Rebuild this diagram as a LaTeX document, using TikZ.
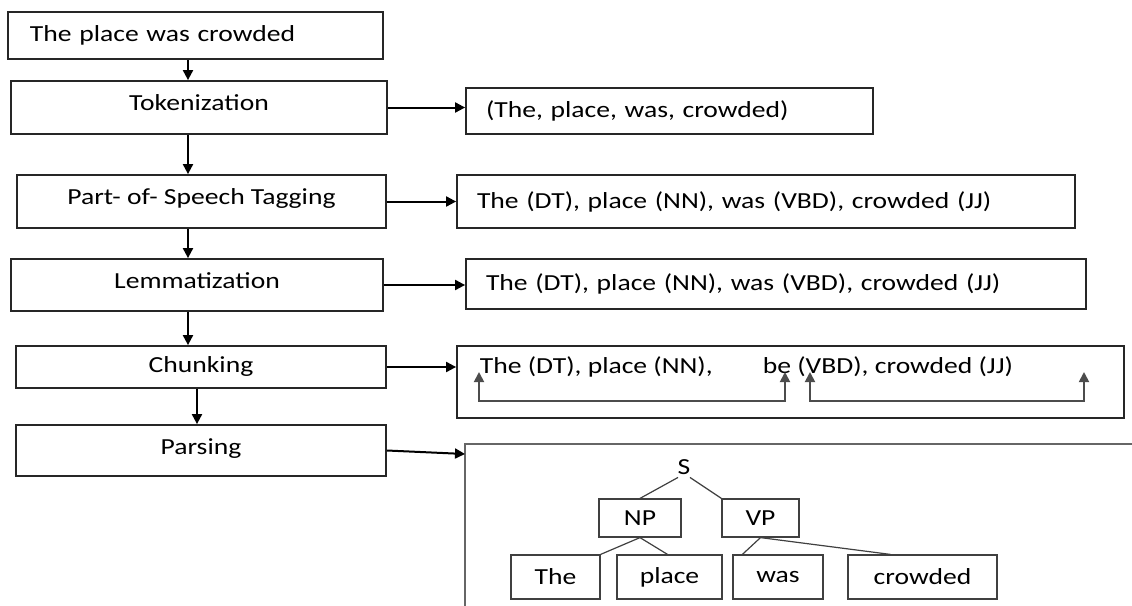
\documentclass[tikz,border=0pt]{standalone}
\usepackage{fontspec}
\setmainfont{Carlito}[FakeStretch=1.2]
\usetikzlibrary{arrows.meta}

\begin{document}
\begin{tikzpicture}[x=0.5pt,y=-0.5pt,line width=0.9pt,
            font=\fontsize{11.5}{14}\selectfont,
            stage/.style = {draw=black!85,
                minimum width=185pt,
                minimum height=26.5pt,
                text depth=4pt,
                inner sep=0pt},
            result/.style = {draw=black!85,
                inner xsep=10pt,
                inner ysep=0pt,
                align=left},
            phrase/.style = {draw=black!75, line width=0.6pt,
                minimum height=19pt, inner sep=0pt},
            leaf/.style = {draw=black!75, line width=0.6pt,
                minimum height=22pt, inner sep=0pt},
            arr/.style = {line width=1pt, -{Triangle[length=5pt,width=5pt]}},
            dbl/.style = {black!70,
                {Triangle[length=5pt,width=5pt]}-{Triangle[length=5pt,width=5pt]}},
            branch/.style = {black!75, line width=0.6pt}]

        \useasboundingbox (0,0) rectangle (1132,606);

        % Input sentence
        \node[stage, minimum width=187.5pt, minimum height=23.5pt, text depth=2pt,
            inner xsep=11pt, text width=165.5pt, align=left] (in) at (195.5,35.5) {The place was crowded};

        % Stages
        \node[stage, minimum width=188pt, text depth=5pt] (tok) at (199,107.5) {Tokenization};
        \node[stage, minimum width=184.5pt, text depth=5pt] (pos) at (201.5,201.5) {Part- of- Speech Tagging};
        \node[stage, minimum width=186pt, minimum height=26pt] (lem) at (197,285) {Lemmatization};
        \node[stage, minimum height=21pt, text depth=2.5pt] (chk) at (201,367) {Chunking};
        \node[stage, minimum height=25.5pt] (prs) at (201,450.5) {Parsing};

        % Stage arrows
        \coordinate (axis) at (188,0);
        \draw[arr] (in.south -| axis) -- (tok.north -| axis);
        \draw[arr] (tok.south -| axis) -- (pos.north -| axis);
        \draw[arr] (pos.south -| axis) -- (lem.north -| axis);
        \draw[arr] (lem.south -| axis) -- (chk.north -| axis);
        \draw[arr] ([xshift=-2pt]chk.south) -- ([xshift=-2pt]prs.north);

        % Results
        \node[result, text width=183.5pt, minimum height=23pt] (tokout) at (669.5,111) {(The, place, was, crowded)};
        \node[result, text width=289pt, minimum height=26.5pt] (posout) at (766,201.5) {The (DT), place (NN), was (VBD), crowded (JJ)};
        \node[result, text width=290pt, minimum height=25pt] (lemout) at (776,284) {The (DT), place (NN), was (VBD), crowded (JJ)};
        \node[draw=black!85, minimum width=333.5pt, minimum height=36pt, inner sep=0pt] (chkout) at (790.5,382) {};
        \node[anchor=west, inner sep=0pt] (chkA) at (479,367) {The (DT), place (NN),};
        \node[anchor=west, inner sep=0pt] (chkB) at (762,367) {be (VBD), crowded (JJ)};

        % Chunk links
        \coordinate (b1) at (479,372);
        \coordinate (b2) at (785,372);
        \coordinate (b3) at (810,372);
        \coordinate (b4) at (1084,372);
        \draw[dbl] (b1) -- ++(0,29) -| (b2);
        \draw[dbl] (b3) -- ++(0,29) -| (b4);

        % Result arrows
        \draw[arr] (tok.east) -- (tok.east -| tokout.west);
        \draw[arr] (pos.east) -- (pos.east -| posout.west);
        \draw[arr] (lem.east) -- (lem.east -| lemout.west);
        \draw[arr] (chk.east) -- (chk.east -| chkout.west);

        % Parse tree frame
        \coordinate (prsin) at (465,454);
        \draw[black!60] (1132,444) -- (465,444) -- (465,606);
        \draw[arr] (prs.east) -- (prsin);

        % Parse tree
        \node[inner sep=1pt] (S) at (684,467) {S};
        \node[phrase, minimum width=41pt] (NP) at (640,518) {NP};
        \node[phrase, minimum width=38.5pt] (VP) at (760.5,518) {VP};
        \node[leaf, minimum width=44.5pt] (the) at (555.5,577) {The};
        \node[leaf, minimum width=52.5pt] (place) at (669.5,577) {place};
        \node[leaf, minimum width=45pt] (was) at (778,577) {was};
        \node[leaf, minimum width=74.5pt] (crowded) at (922.5,577) {crowded};

        \draw[branch] ([xshift=-3pt]S.south) -- (NP.north);
        \draw[branch] ([xshift=3pt]S.south) -- (VP.north west);
        \draw[branch] (NP.south) -- (the.north east);
        \draw[branch] (NP.south) -- ([xshift=-1pt]place.north);
        \draw[branch] (VP.south) -- ([xshift=5pt]was.north west);
        \draw[branch] (VP.south) -- ([xshift=-16pt]crowded.north);

        \end{tikzpicture}
\end{document}
